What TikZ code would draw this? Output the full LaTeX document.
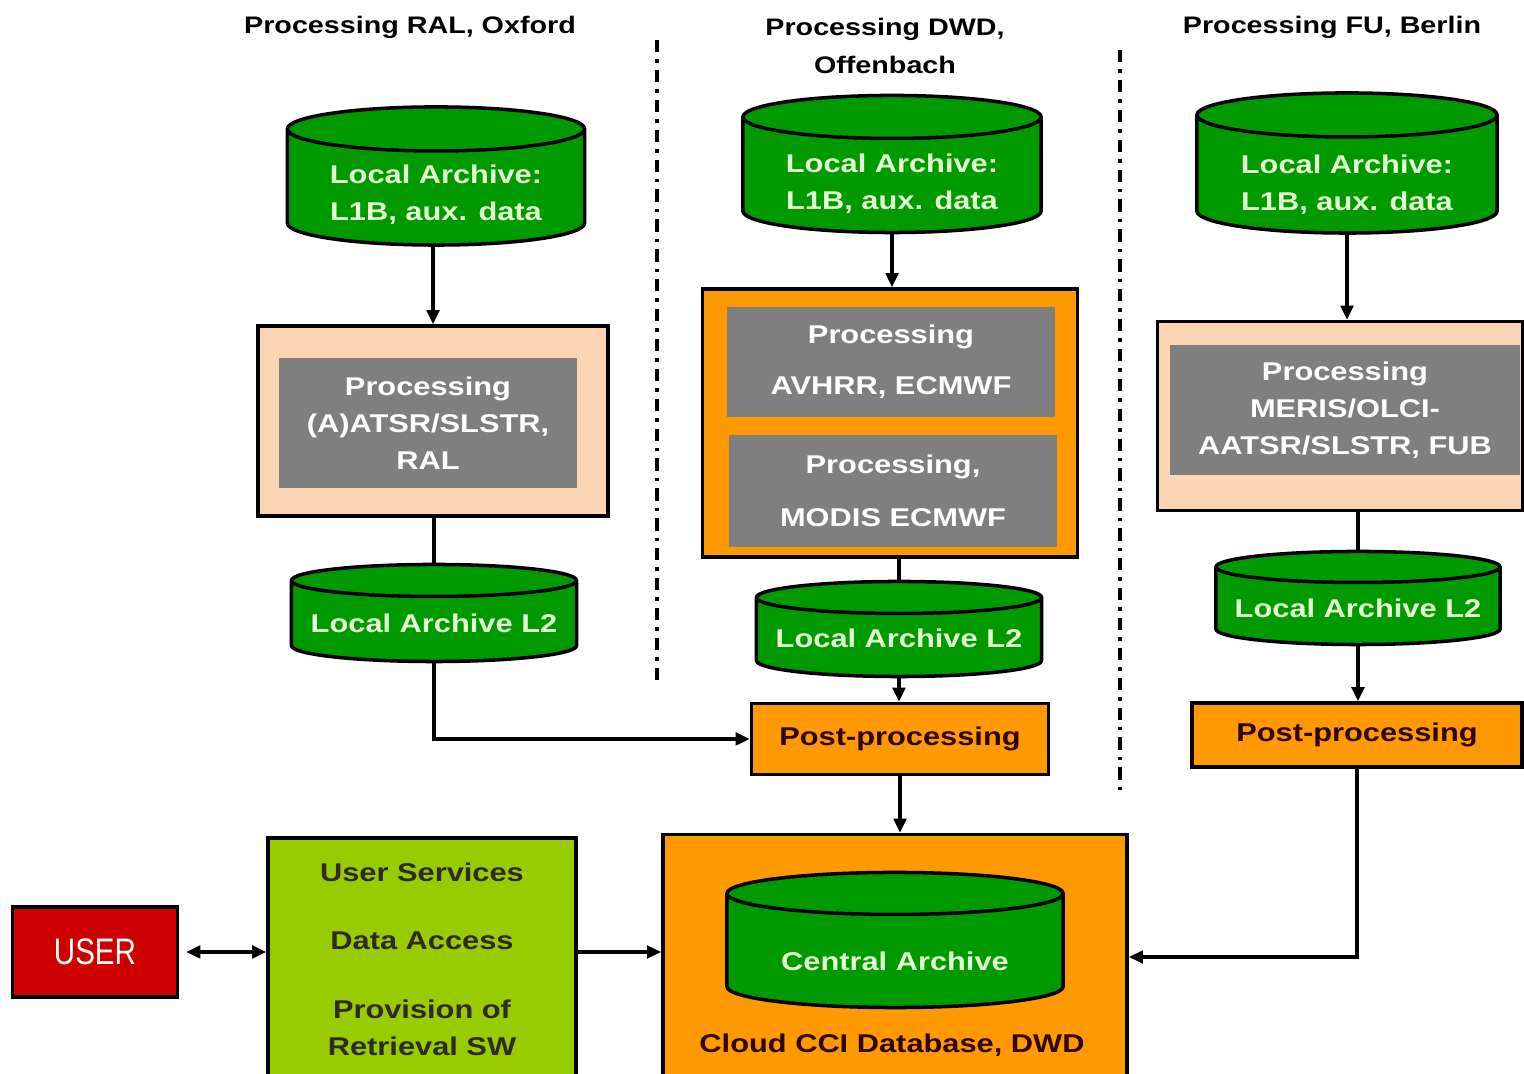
\documentclass[tikz,border=0pt]{standalone}
\usepackage{fontspec}
\setmainfont{Liberation Sans}[FakeStretch=1.2]
\newfontfamily\userfont{Liberation Sans}[FakeStretch=0.8]
\usetikzlibrary{arrows.meta,positioning}

\definecolor{archgreen}{HTML}{009A00}
\definecolor{archtext}{HTML}{E4FFD2}
\definecolor{procgray}{HTML}{7F7F7F}
\definecolor{peach}{HTML}{FCD5B4}
\definecolor{dwdorange}{HTML}{FF9900}
\definecolor{limegreen}{HTML}{99CC00}
\definecolor{userred}{HTML}{CC0000}
\definecolor{darkbrown}{HTML}{2E0000}

\tikzset{
  every node/.style={font=\fontsize{7.3}{10.5}\selectfont\bfseries, align=center, inner sep=0pt},
  archframe/.style={rectangle, outer sep=0pt},
  archive/.style={draw=black, line width=1pt, fill=archgreen},
  archlabel/.style={text=archtext},
  outerbox/.style={rectangle, draw=black, line width=1pt},
  graybox/.style={rectangle, fill=procgray, text=white},
  postbox/.style={rectangle, draw=black, line width=1pt, fill=dwdorange, text=darkbrown},
  heading/.style={font=\fontsize{6.8}{11}\selectfont\bfseries},
  conn/.style={line width=0.9pt, -{Triangle[length=4pt,width=3.6pt]}},
  link/.style={line width=0.9pt},
  sepline/.style={line width=1pt, dash pattern=on 3.5pt off 2pt on 1pt off 2pt}
}

% archive disk: name, position, width, height, end radius, text shift, text
\newcommand\archivedisk[7]{%
  \node[archframe, minimum width=#3, minimum height=#4] (#2) at (#1) {};
  \draw[archive] ([yshift=-#5]#2.north west) -- ([yshift=#5]#2.south west)
    arc[start angle=180, end angle=360, x radius=0.5*#3, y radius=#5]
    -- ([yshift=-#5]#2.north east)
    arc[start angle=0, end angle=180, x radius=0.5*#3, y radius=#5] -- cycle
    ([yshift=-#5]#2.north west) arc[start angle=180, end angle=360, x radius=0.5*#3, y radius=#5];
  \node[archlabel] (#2text) at ([yshift=-#6]#2.center) {#7};
}

\begin{document}
\begin{tikzpicture}[x=0.01cm, y=-0.01cm]
\useasboundingbox (0,0) rectangle (1524,1074);

% headings
\node[heading] (hdral) at (410,27) {Processing RAL, Oxford};
\node[heading] (hddwd) at (885,46) {Processing DWD,\\Offenbach};
\node[heading] (hdfub) at (1332,27) {Processing FU, Berlin};

% separators
\draw[sepline] (657,40) -- (657,685);
\draw[sepline] (1120,50) -- (1120,790);

% RAL, Oxford
\archivedisk{436,176}{l1ral}{2.97cm}{1.38cm}{0.22cm}{0.19cm}{Local Archive:\\L1B, aux. data}
\node[outerbox, fill=peach, minimum width=3.5cm, minimum height=1.9cm] (pral) at (433,421) {};
\node[graybox, minimum width=2.97cm, minimum height=1.3cm] (gral) at (428,423) {Processing\\(A)ATSR/SLSTR,\\RAL};
\archivedisk{434,613}{l2ral}{2.85cm}{0.97cm}{0.16cm}{0.105cm}{Local Archive L2}

% DWD, Offenbach
\archivedisk{892,164}{l1dwd}{2.98cm}{1.37cm}{0.215cm}{0.2cm}{Local Archive:\\L1B, aux. data}
\node[outerbox, fill=dwdorange, minimum width=3.75cm, minimum height=2.68cm] (pdwd) at (890,423) {};
\node[graybox, minimum width=3.28cm, minimum height=1.1cm] (gavh) at (891,362) {Processing\\[4pt]AVHRR, ECMWF};
\node[graybox, minimum width=3.27cm, minimum height=1.12cm] (gmod) at (893,491) {Processing,\\[4.5pt]MODIS ECMWF};
\archivedisk{899,629}{l2dwd}{2.85cm}{0.95cm}{0.16cm}{0.09cm}{Local Archive L2}
\node[postbox, minimum width=2.97cm, minimum height=0.71cm] (postdwd) at (900,739) {Post-processing};

% FU, Berlin
\archivedisk{1347,163}{l1fub}{3.0cm}{1.4cm}{0.22cm}{0.22cm}{Local Archive:\\L1B, aux. data}
\node[outerbox, fill=peach, minimum width=3.65cm, minimum height=1.89cm] (pfub) at (1340,416) {};
\node[graybox, minimum width=3.5cm, minimum height=1.3cm] (gfub) at (1345,410) {Processing\\MERIS/OLCI-\\AATSR/SLSTR, FUB};
\archivedisk{1358,598}{l2fub}{2.84cm}{0.93cm}{0.155cm}{0.1cm}{Local Archive L2}
\node[postbox, minimum width=3.3cm, minimum height=0.64cm] (postfub) at (1357,735) {Post-processing};

% user side and central archive
\node[rectangle, draw=black, line width=1pt, fill=userred, text=white, minimum width=1.65cm, minimum height=0.9cm,
  font=\userfont\fontsize{10.5}{12}\selectfont] (user) at (95,952) {USER};
\node[rectangle, draw=black, line width=1pt, fill=limegreen, text=black!90!olive, minimum width=3.08cm, minimum height=2.42cm] (services) at (422,959)
  {User Services\\[9pt]Data Access\\[9pt]Provision of\\Retrieval SW};
\node[outerbox, fill=dwdorange, minimum width=4.64cm, minimum height=2.45cm] (central) at (895,957) {};
\archivedisk{895,940}{carch}{3.36cm}{1.35cm}{0.21cm}{0.215cm}{Central Archive}
\node[text=darkbrown] (cclabel) at (892,1045) {Cloud CCI Database, DWD};

% connectors
\draw[conn] (pral.north |- l1ral.south) -- (pral.north);
\draw[conn] (l1dwd.south) -- (l1dwd.south |- pdwd.north);
\draw[conn] (l1fub.south) -- (l1fub.south |- pfub.north);
\draw[link] (l2ral.north |- pral.south) -- (l2ral.north);
\draw[link] (l2dwd.north |- pdwd.south) -- (l2dwd.north);
\draw[link] (l2fub.north |- pfub.south) -- (l2fub.north);
\draw[conn] (l2ral.south) |- (postdwd.west);
\draw[conn] (l2dwd.south) -- (l2dwd.south |- postdwd.north);
\draw[conn] (l2fub.south) -- (l2fub.south |- postfub.north);
\draw[conn] (postdwd.south) -- (postdwd.south |- central.north);
\draw[conn] (postfub.south) |- (central.east);
\draw[conn] (services.east |- user.east) -- (central.west |- user.east);
\draw[conn, {Triangle[length=4pt,width=3.6pt]}-{Triangle[length=4pt,width=3.6pt]}] ([xshift=2pt]user.east) -- (user.east -| services.west);
\end{tikzpicture}
\end{document}
